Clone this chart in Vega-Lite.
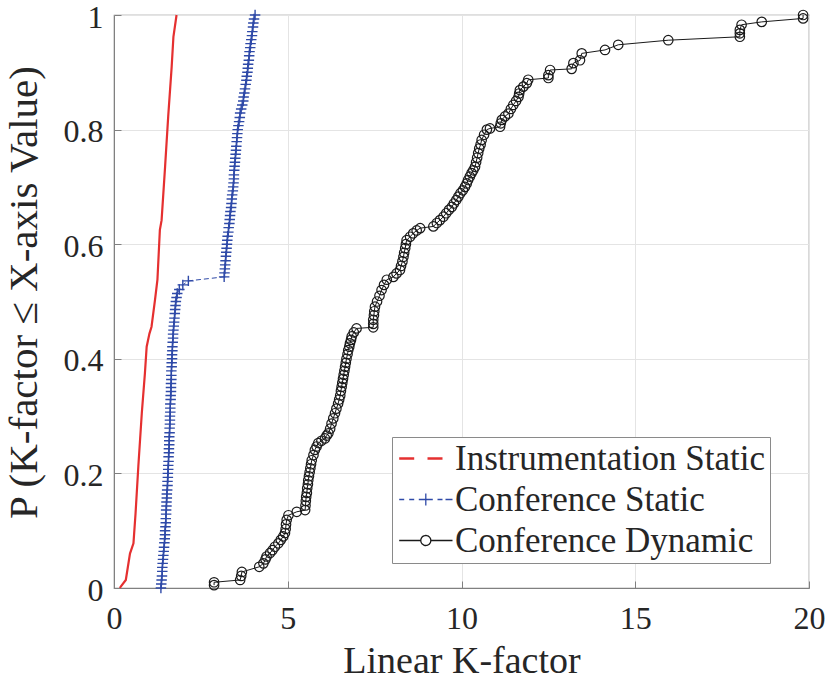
{
  "$schema": "https://vega.github.io/schema/vega-lite/v6.json",
  "width": 695,
  "height": 573,
  "autosize": "none",
  "padding": {"left": 114, "top": 15, "right": 20, "bottom": 95},
  "background": "white",
  "config": {
    "font": "Liberation Serif",
    "view": {"stroke": "#808080", "strokeWidth": 1.2}
  },
  "datasets": {
    "curves": [
      {"s":"IS","x":0.17,"y":0},{"s":"IS","x":0.20,"y":0.003},{"s":"IS","x":0.34,"y":0.014},{"s":"IS","x":0.46,"y":0.06},{"s":"IS","x":0.56,"y":0.078},{"s":"IS","x":0.62,"y":0.13},{"s":"IS","x":0.70,"y":0.212},{"s":"IS","x":0.80,"y":0.305},{"s":"IS","x":0.89,"y":0.375},{"s":"IS","x":0.94,"y":0.421},{"s":"IS","x":1.02,"y":0.444},{"s":"IS","x":1.08,"y":0.456},{"s":"IS","x":1.18,"y":0.503},{"s":"IS","x":1.25,"y":0.538},{"s":"IS","x":1.32,"y":0.625},{"s":"IS","x":1.37,"y":0.642},{"s":"IS","x":1.47,"y":0.735},{"s":"IS","x":1.56,"y":0.823},{"s":"IS","x":1.66,"y":0.91},{"s":"IS","x":1.71,"y":0.962},{"s":"IS","x":1.80,"y":1.0},
      {"s":"CS","x":1.35,"y":0},{"s":"CS","x":1.36,"y":0.007},{"s":"CS","x":1.37,"y":0.014},{"s":"CS","x":1.38,"y":0.021},{"s":"CS","x":1.39,"y":0.029},{"s":"CS","x":1.39,"y":0.036},{"s":"CS","x":1.40,"y":0.043},{"s":"CS","x":1.41,"y":0.05},{"s":"CS","x":1.42,"y":0.057},{"s":"CS","x":1.43,"y":0.064},{"s":"CS","x":1.44,"y":0.071},{"s":"CS","x":1.45,"y":0.079},{"s":"CS","x":1.46,"y":0.086},{"s":"CS","x":1.47,"y":0.093},{"s":"CS","x":1.47,"y":0.1},{"s":"CS","x":1.48,"y":0.107},{"s":"CS","x":1.49,"y":0.114},{"s":"CS","x":1.49,"y":0.121},{"s":"CS","x":1.50,"y":0.129},{"s":"CS","x":1.50,"y":0.136},{"s":"CS","x":1.51,"y":0.143},{"s":"CS","x":1.51,"y":0.15},{"s":"CS","x":1.52,"y":0.157},{"s":"CS","x":1.52,"y":0.164},{"s":"CS","x":1.53,"y":0.171},{"s":"CS","x":1.54,"y":0.179},{"s":"CS","x":1.54,"y":0.186},{"s":"CS","x":1.55,"y":0.193},{"s":"CS","x":1.55,"y":0.2},{"s":"CS","x":1.56,"y":0.207},{"s":"CS","x":1.56,"y":0.214},{"s":"CS","x":1.57,"y":0.221},{"s":"CS","x":1.57,"y":0.229},{"s":"CS","x":1.58,"y":0.236},{"s":"CS","x":1.58,"y":0.243},{"s":"CS","x":1.59,"y":0.25},{"s":"CS","x":1.59,"y":0.257},{"s":"CS","x":1.59,"y":0.264},{"s":"CS","x":1.60,"y":0.271},{"s":"CS","x":1.60,"y":0.279},{"s":"CS","x":1.61,"y":0.286},{"s":"CS","x":1.61,"y":0.293},{"s":"CS","x":1.61,"y":0.3},{"s":"CS","x":1.62,"y":0.307},{"s":"CS","x":1.62,"y":0.314},{"s":"CS","x":1.62,"y":0.321},{"s":"CS","x":1.63,"y":0.329},{"s":"CS","x":1.63,"y":0.336},{"s":"CS","x":1.64,"y":0.343},{"s":"CS","x":1.64,"y":0.35},{"s":"CS","x":1.64,"y":0.357},{"s":"CS","x":1.65,"y":0.364},{"s":"CS","x":1.65,"y":0.371},{"s":"CS","x":1.65,"y":0.379},{"s":"CS","x":1.66,"y":0.386},{"s":"CS","x":1.66,"y":0.393},{"s":"CS","x":1.67,"y":0.4},{"s":"CS","x":1.67,"y":0.407},{"s":"CS","x":1.68,"y":0.414},{"s":"CS","x":1.68,"y":0.421},{"s":"CS","x":1.69,"y":0.429},{"s":"CS","x":1.70,"y":0.436},{"s":"CS","x":1.70,"y":0.443},{"s":"CS","x":1.71,"y":0.45},{"s":"CS","x":1.72,"y":0.457},{"s":"CS","x":1.73,"y":0.464},{"s":"CS","x":1.74,"y":0.471},{"s":"CS","x":1.75,"y":0.479},{"s":"CS","x":1.76,"y":0.486},{"s":"CS","x":1.77,"y":0.493},{"s":"CS","x":1.78,"y":0.5},{"s":"CS","x":1.80,"y":0.507},{"s":"CS","x":1.82,"y":0.514},{"s":"CS","x":1.88,"y":0.521},{"s":"CS","x":1.98,"y":0.529},{"s":"CS","x":2.14,"y":0.536},{"s":"CS","x":3.17,"y":0.543},{"s":"CS","x":3.18,"y":0.55},{"s":"CS","x":3.19,"y":0.557},{"s":"CS","x":3.20,"y":0.564},{"s":"CS","x":3.21,"y":0.571},{"s":"CS","x":3.22,"y":0.579},{"s":"CS","x":3.23,"y":0.586},{"s":"CS","x":3.24,"y":0.593},{"s":"CS","x":3.25,"y":0.6},{"s":"CS","x":3.26,"y":0.607},{"s":"CS","x":3.27,"y":0.614},{"s":"CS","x":3.29,"y":0.621},{"s":"CS","x":3.30,"y":0.629},{"s":"CS","x":3.32,"y":0.636},{"s":"CS","x":3.33,"y":0.643},{"s":"CS","x":3.34,"y":0.65},{"s":"CS","x":3.35,"y":0.657},{"s":"CS","x":3.37,"y":0.664},{"s":"CS","x":3.38,"y":0.671},{"s":"CS","x":3.39,"y":0.679},{"s":"CS","x":3.40,"y":0.686},{"s":"CS","x":3.42,"y":0.693},{"s":"CS","x":3.43,"y":0.7},{"s":"CS","x":3.44,"y":0.707},{"s":"CS","x":3.45,"y":0.714},{"s":"CS","x":3.45,"y":0.721},{"s":"CS","x":3.46,"y":0.729},{"s":"CS","x":3.47,"y":0.736},{"s":"CS","x":3.48,"y":0.743},{"s":"CS","x":3.49,"y":0.75},{"s":"CS","x":3.50,"y":0.757},{"s":"CS","x":3.51,"y":0.764},{"s":"CS","x":3.52,"y":0.771},{"s":"CS","x":3.53,"y":0.779},{"s":"CS","x":3.54,"y":0.786},{"s":"CS","x":3.55,"y":0.793},{"s":"CS","x":3.56,"y":0.8},{"s":"CS","x":3.58,"y":0.807},{"s":"CS","x":3.60,"y":0.814},{"s":"CS","x":3.62,"y":0.821},{"s":"CS","x":3.63,"y":0.829},{"s":"CS","x":3.66,"y":0.836},{"s":"CS","x":3.69,"y":0.843},{"s":"CS","x":3.72,"y":0.85},{"s":"CS","x":3.73,"y":0.857},{"s":"CS","x":3.75,"y":0.864},{"s":"CS","x":3.77,"y":0.871},{"s":"CS","x":3.79,"y":0.879},{"s":"CS","x":3.81,"y":0.886},{"s":"CS","x":3.82,"y":0.893},{"s":"CS","x":3.84,"y":0.9},{"s":"CS","x":3.85,"y":0.907},{"s":"CS","x":3.86,"y":0.914},{"s":"CS","x":3.88,"y":0.921},{"s":"CS","x":3.89,"y":0.929},{"s":"CS","x":3.90,"y":0.936},{"s":"CS","x":3.92,"y":0.943},{"s":"CS","x":3.93,"y":0.95},{"s":"CS","x":3.95,"y":0.957},{"s":"CS","x":3.97,"y":0.964},{"s":"CS","x":3.98,"y":0.971},{"s":"CS","x":4.00,"y":0.979},{"s":"CS","x":4.01,"y":0.986},{"s":"CS","x":4.03,"y":0.993},{"s":"CS","x":4.06,"y":1.0},
      {"s":"CD","x":2.88,"y":0.005},{"s":"CD","x":2.88,"y":0.01},{"s":"CD","x":3.63,"y":0.014},{"s":"CD","x":3.66,"y":0.021},{"s":"CD","x":3.68,"y":0.028},{"s":"CD","x":4.18,"y":0.037},{"s":"CD","x":4.30,"y":0.043},{"s":"CD","x":4.36,"y":0.05},{"s":"CD","x":4.39,"y":0.055},{"s":"CD","x":4.49,"y":0.061},{"s":"CD","x":4.56,"y":0.066},{"s":"CD","x":4.63,"y":0.072},{"s":"CD","x":4.73,"y":0.078},{"s":"CD","x":4.80,"y":0.084},{"s":"CD","x":4.87,"y":0.09},{"s":"CD","x":4.92,"y":0.096},{"s":"CD","x":4.94,"y":0.103},{"s":"CD","x":4.95,"y":0.111},{"s":"CD","x":4.97,"y":0.119},{"s":"CD","x":5.02,"y":0.127},{"s":"CD","x":5.26,"y":0.133},{"s":"CD","x":5.50,"y":0.136},{"s":"CD","x":5.51,"y":0.144},{"s":"CD","x":5.52,"y":0.152},{"s":"CD","x":5.53,"y":0.159},{"s":"CD","x":5.55,"y":0.166},{"s":"CD","x":5.56,"y":0.174},{"s":"CD","x":5.58,"y":0.181},{"s":"CD","x":5.59,"y":0.188},{"s":"CD","x":5.61,"y":0.195},{"s":"CD","x":5.63,"y":0.202},{"s":"CD","x":5.65,"y":0.209},{"s":"CD","x":5.67,"y":0.216},{"s":"CD","x":5.69,"y":0.223},{"s":"CD","x":5.74,"y":0.232},{"s":"CD","x":5.78,"y":0.241},{"s":"CD","x":5.83,"y":0.247},{"s":"CD","x":5.88,"y":0.253},{"s":"CD","x":5.97,"y":0.257},{"s":"CD","x":6.07,"y":0.261},{"s":"CD","x":6.12,"y":0.266},{"s":"CD","x":6.17,"y":0.27},{"s":"CD","x":6.22,"y":0.278},{"s":"CD","x":6.26,"y":0.287},{"s":"CD","x":6.31,"y":0.296},{"s":"CD","x":6.36,"y":0.305},{"s":"CD","x":6.40,"y":0.313},{"s":"CD","x":6.45,"y":0.322},{"s":"CD","x":6.48,"y":0.329},{"s":"CD","x":6.51,"y":0.336},{"s":"CD","x":6.53,"y":0.344},{"s":"CD","x":6.55,"y":0.351},{"s":"CD","x":6.57,"y":0.358},{"s":"CD","x":6.59,"y":0.365},{"s":"CD","x":6.61,"y":0.372},{"s":"CD","x":6.63,"y":0.379},{"s":"CD","x":6.65,"y":0.386},{"s":"CD","x":6.67,"y":0.393},{"s":"CD","x":6.69,"y":0.4},{"s":"CD","x":6.72,"y":0.408},{"s":"CD","x":6.74,"y":0.415},{"s":"CD","x":6.77,"y":0.421},{"s":"CD","x":6.79,"y":0.427},{"s":"CD","x":6.82,"y":0.433},{"s":"CD","x":6.84,"y":0.439},{"s":"CD","x":6.90,"y":0.446},{"s":"CD","x":6.98,"y":0.453},{"s":"CD","x":7.46,"y":0.455},{"s":"CD","x":7.46,"y":0.461},{"s":"CD","x":7.46,"y":0.468},{"s":"CD","x":7.48,"y":0.476},{"s":"CD","x":7.49,"y":0.483},{"s":"CD","x":7.51,"y":0.491},{"s":"CD","x":7.57,"y":0.5},{"s":"CD","x":7.64,"y":0.51},{"s":"CD","x":7.70,"y":0.52},{"s":"CD","x":7.77,"y":0.529},{"s":"CD","x":7.85,"y":0.538},{"s":"CD","x":8.04,"y":0.543},{"s":"CD","x":8.13,"y":0.549},{"s":"CD","x":8.23,"y":0.555},{"s":"CD","x":8.26,"y":0.562},{"s":"CD","x":8.30,"y":0.57},{"s":"CD","x":8.33,"y":0.578},{"s":"CD","x":8.35,"y":0.585},{"s":"CD","x":8.38,"y":0.593},{"s":"CD","x":8.40,"y":0.6},{"s":"CD","x":8.42,"y":0.607},{"s":"CD","x":8.52,"y":0.613},{"s":"CD","x":8.61,"y":0.619},{"s":"CD","x":8.71,"y":0.624},{"s":"CD","x":8.81,"y":0.628},{"s":"CD","x":9.19,"y":0.631},{"s":"CD","x":9.29,"y":0.637},{"s":"CD","x":9.38,"y":0.642},{"s":"CD","x":9.48,"y":0.648},{"s":"CD","x":9.56,"y":0.654},{"s":"CD","x":9.64,"y":0.66},{"s":"CD","x":9.72,"y":0.665},{"s":"CD","x":9.78,"y":0.671},{"s":"CD","x":9.85,"y":0.677},{"s":"CD","x":9.91,"y":0.683},{"s":"CD","x":9.97,"y":0.689},{"s":"CD","x":10.04,"y":0.694},{"s":"CD","x":10.10,"y":0.7},{"s":"CD","x":10.15,"y":0.706},{"s":"CD","x":10.19,"y":0.712},{"s":"CD","x":10.24,"y":0.718},{"s":"CD","x":10.29,"y":0.724},{"s":"CD","x":10.34,"y":0.729},{"s":"CD","x":10.39,"y":0.735},{"s":"CD","x":10.42,"y":0.743},{"s":"CD","x":10.45,"y":0.751},{"s":"CD","x":10.48,"y":0.759},{"s":"CD","x":10.51,"y":0.767},{"s":"CD","x":10.55,"y":0.774},{"s":"CD","x":10.58,"y":0.782},{"s":"CD","x":10.65,"y":0.791},{"s":"CD","x":10.73,"y":0.8},{"s":"CD","x":10.82,"y":0.802},{"s":"CD","x":11.11,"y":0.805},{"s":"CD","x":11.13,"y":0.811},{"s":"CD","x":11.16,"y":0.817},{"s":"CD","x":11.25,"y":0.823},{"s":"CD","x":11.35,"y":0.828},{"s":"CD","x":11.42,"y":0.836},{"s":"CD","x":11.49,"y":0.843},{"s":"CD","x":11.57,"y":0.85},{"s":"CD","x":11.64,"y":0.857},{"s":"CD","x":11.66,"y":0.863},{"s":"CD","x":11.68,"y":0.869},{"s":"CD","x":11.78,"y":0.875},{"s":"CD","x":11.88,"y":0.881},{"s":"CD","x":11.92,"y":0.887},{"s":"CD","x":12.50,"y":0.89},{"s":"CD","x":12.50,"y":0.895},{"s":"CD","x":12.55,"y":0.904},{"s":"CD","x":13.17,"y":0.906},{"s":"CD","x":13.22,"y":0.916},{"s":"CD","x":13.41,"y":0.921},{"s":"CD","x":13.46,"y":0.933},{"s":"CD","x":14.13,"y":0.939},{"s":"CD","x":14.51,"y":0.948},{"s":"CD","x":15.95,"y":0.956},{"s":"CD","x":18.01,"y":0.962},{"s":"CD","x":18.01,"y":0.968},{"s":"CD","x":18.01,"y":0.974},{"s":"CD","x":18.06,"y":0.983},{"s":"CD","x":18.64,"y":0.988},{"s":"CD","x":19.83,"y":0.994},{"s":"CD","x":19.83,"y":1.0}
    ]
  },
  "data": {"name": "curves"},
  "encoding": {
    "x": {
      "field": "x", "type": "quantitative",
      "scale": {"domain": [0, 20], "nice": false, "zero": false},
      "axis": {
        "values": [0, 5, 10, 15, 20], "format": "~g",
        "title": "Linear K-factor", "titleFontSize": 38, "titleFontWeight": "normal", "titleColor": "#262626", "titlePadding": 8,
        "labelFontSize": 32, "labelColor": "#262626", "labelPadding": 22, "labelFlush": false,
        "tickSize": -7, "tickColor": "#808080", "domainColor": "#808080",
        "grid": true, "gridColor": "#e4e4e4"
      }
    },
    "y": {
      "field": "y", "type": "quantitative",
      "scale": {"domain": [0, 1], "nice": false},
      "axis": {
        "values": [0, 0.2, 0.4, 0.6, 0.8, 1], "format": "~g",
        "title": "P (K-factor ≤ X-axis Value)", "titleFontSize": 41, "titleFontWeight": "normal", "titleColor": "#262626", "titleX": -69, "titleY": 277,
        "labelFontSize": 32, "labelColor": "#262626", "labelPadding": 18, "labelFlush": false, "labelOffset": 2,
        "tickSize": -7, "tickColor": "#808080", "domainColor": "#808080",
        "grid": true, "gridColor": "#e4e4e4"
      }
    }
  },
  "layer": [
    {
      "transform": [{"filter": "datum.s == 'IS'"}],
      "mark": {"type": "line", "strokeWidth": 2.2},
      "encoding": {
        "order": {"value": null},
        "color": {
          "field": "s", "type": "nominal",
          "scale": {"domain": ["IS", "CS", "CD"], "range": ["#e53030", "#2f4aa8", "#1a1a1a"]},
          "legend": {
            "orient": "none", "legendX": 278, "legendY": 422, "title": null, "direction": "vertical",
            "labelExpr": "datum.value == 'IS' ? 'Instrumentation Static' : datum.value == 'CS' ? 'Conference Static' : 'Conference Dynamic'",
            "labelFont": "Liberation Serif", "labelFontSize": 35, "labelColor": "#262626", "labelLimit": 0, "labelOffset": 24,
            "symbolSize": 1600, "symbolStrokeWidth": 1.3, "symbolFillColor": "transparent",
            "padding": 4, "rowPadding": 5, "strokeColor": "#8a8a8a", "fillColor": "white",
            "encode": {
              "symbols": {
                "update": {
                  "shape": {"signal": "datum.value == 'IS' ? 'M-0.715,0H0.035M0.7,0H1.45' : datum.value == 'CS' ? 'M-0.715,0H-0.465M-0.215,0H0.035M0.265,0H0.965M0.615,-0.3V0.3M1.2,0H1.45M1.6,0H1.95' : 'M-0.715,0H0.365M0.865,0H1.95M0.865,0A0.25,0.25 0 1,1 0.365,0A0.25,0.25 0 1,1 0.865,0'"},
                  "strokeWidth": {"signal": "datum.value == 'IS' ? 2.6 : 1.3"},
                  "strokeDash": {"value": [1, 0]},
                  "fill": {"value": "transparent"}
                }
              }
            }
          }
        }
      }
    },
    {
      "transform": [{"filter": "datum.s == 'CS'"}],
      "mark": {"type": "line", "strokeWidth": 1, "strokeDash": [5, 3]},
      "encoding": {
        "order": {"value": null},
        "color": {"field": "s", "type": "nominal"}
      }
    },
    {
      "transform": [{"filter": "datum.s == 'CD'"}],
      "mark": {"type": "line", "strokeWidth": 1},
      "encoding": {
        "order": {"value": null},
        "color": {"field": "s", "type": "nominal"}
      }
    },
    {
      "transform": [{"filter": "datum.s == 'CS'"}],
      "mark": {"type": "point", "shape": "M-1,0H1M0,-1V1", "size": 110, "stroke": "#2f4aa8", "strokeWidth": 1.4, "filled": false, "opacity": 1},
      "encoding": {}
    },
    {
      "transform": [{"filter": "datum.s == 'CD'"}],
      "mark": {"type": "point", "shape": "circle", "size": 90, "stroke": "#1a1a1a", "strokeWidth": 1.2, "filled": false, "opacity": 1},
      "encoding": {}
    }
  ]
}
